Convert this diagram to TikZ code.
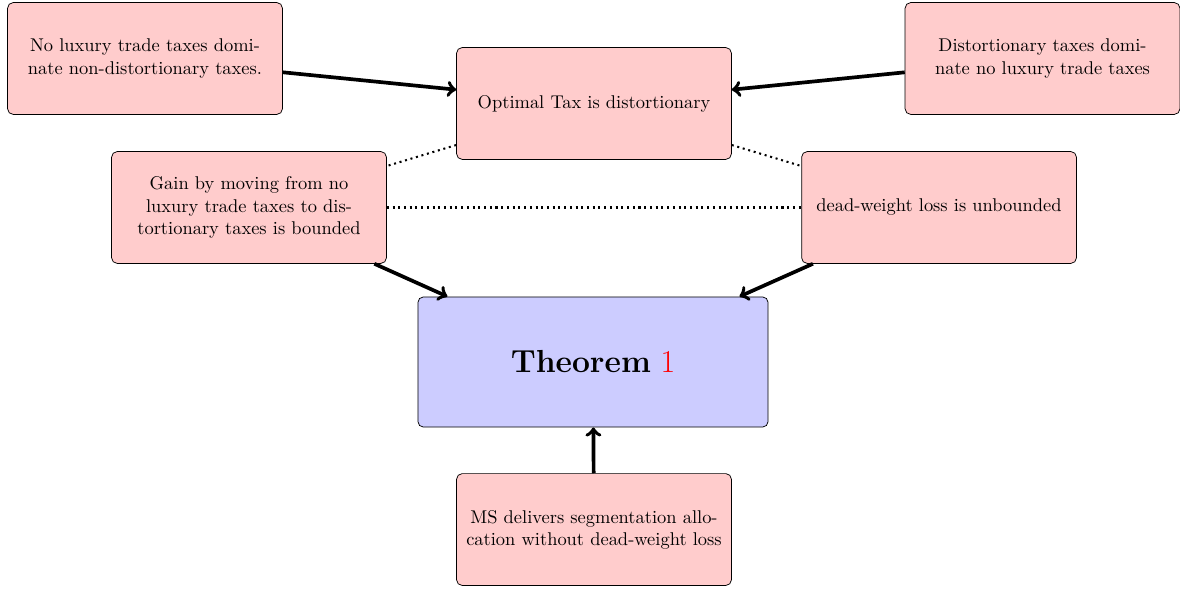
\documentclass[tikz,border=0pt]{standalone}
\usepackage{mathtools,amsfonts,amssymb}
\usepackage{tikz}

\begin{document}
\begin{tikzpicture}[main/.style = {draw, rectangle, rounded corners=3pt, fill=red!20, text width=5cm, minimum height=2.13cm, align=center}, thm/.style = {draw, rectangle, rounded corners=3pt, fill=blue!20, minimum width=6.67cm, minimum height=2.48cm, align=center}, arr/.style = {->, line width=2pt}, dot/.style = {dotted, line width=1.1pt}]
\useasboundingbox (0,0) rectangle (22.476,-11.238);
\node[main] (nolux) at (2.762,-1.114) {No luxury trade taxes domi-\\nate non-distortionary taxes.};
\node[main] (opt) at (11.314,-1.971) {Optimal Tax is distortionary};
\node[main] (dist) at (19.857,-1.114) {Distortionary taxes dominate no luxury trade taxes};
\node[main] (gain) at (4.743,-3.952) {Gain by moving from no luxury trade taxes to distortionary taxes is bounded};
\node[main] (dwl) at (17.886,-3.952) {dead-weight loss is unbounded};
\node[thm] (thm) at (11.295,-6.895) {\LARGE\textbf{Theorem} \textcolor{red}{1}};
\node[main] (ms) at (11.314,-10.086) {MS delivers segmentation allocation without dead-weight loss};
\draw[arr] (nolux) -- (opt);
\draw[arr] (dist) -- (opt);
\draw[arr] (gain) -- (thm);
\draw[arr] (dwl) -- (thm);
\draw[arr] (ms) -- (thm);
\draw[dot] (opt) -- (gain);
\draw[dot] (opt) -- (dwl);
\draw[dot] (gain) -- (dwl);
\end{tikzpicture}
\end{document}
